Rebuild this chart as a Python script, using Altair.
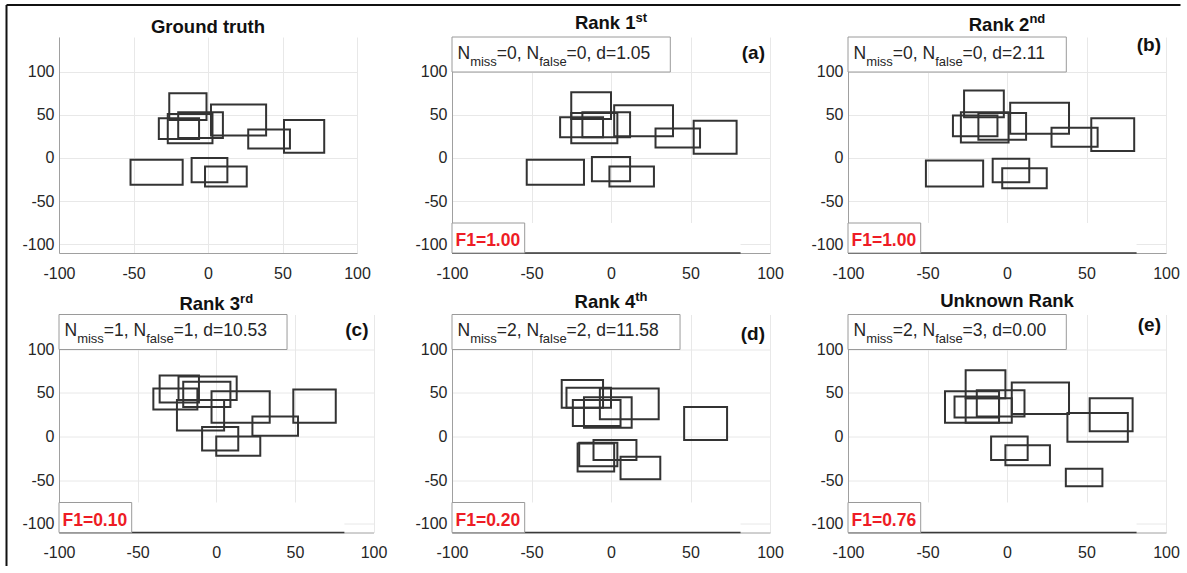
import altair as alt
import pandas as pd

# Box detections per panel, each as (x_min, x_max, y_min, y_max)
ground_truth = [(-26, -1, 44, 75), (2, 39, 26, 62), (-20, 10, 23, 53), (-33, -6, 22, 46),
                (-27, 3, 17, 51), (27, 55, 11, 33), (51, 78, 6, 44), (-52, -17, -31, -2),
                (-11, 13, -28, 0), (-2, 26, -33, -10)]
rank_1 = [(-25, 0, 45, 76), (2, 39, 25, 61), (-18, 12, 24, 53), (-32, -5, 24, 47),
          (-25, 4, 17, 52), (28, 56, 12, 34), (52, 79, 5, 43), (-53, -17, -31, -2),
          (-12, 12, -27, 1), (-1, 27, -33, -10)]
rank_2 = [(-27, -2, 47, 78), (2, 39, 28, 64), (-18, 12, 21, 52), (-34, -6, 25, 49),
          (-29, 1, 18, 53), (28, 57, 13, 35), (53, 80, 8, 46), (-51, -15, -33, -3),
          (-9, 14, -28, -1), (-3, 25, -35, -12)]
rank_3 = [(-36, -11, 39, 70), (-24, 13, 42, 69), (-21, 9, 34, 63), (-40, -12, 31, 55),
          (-25, 5, 7, 42), (-3, 34, 16, 52), (49, 76, 16, 54), (23, 52, 1, 23),
          (-9, 14, -16, 11), (0, 28, -22, 0)]
rank_4 = [(-31, -5, 33, 65), (-28, 0, 33, 56), (-7, 30, 20, 55), (-24, 6, 12, 42),
          (-17, 13, 10, 45), (46, 73, -4, 34), (-11, 16, -27, -4), (-20, 4, -34, -7),
          (-21, 2, -40, -8), (6, 31, -49, -23)]
unknown_rank = [(-26, -1, 44, 76), (3, 39, 26, 62), (-19, 11, 23, 53), (-39, -5, 16, 52),
                (-33, -5, 22, 46), (-26, 3, 16, 44), (38, 76, -6, 27), (52, 79, 6, 44),
                (-10, 13, -27, 0), (-1, 27, -33, -10), (37, 60, -57, -37)]

panel_boxes = [ground_truth, rank_1, rank_2, rank_3, rank_4, unknown_rank]
panel_titles = [("Ground truth", ""), ("Rank 1", "st"), ("Rank 2", "nd"),
                ("Rank 3", "rd"), ("Rank 4", "th"), ("Unknown Rank", "")]
panel_tags = ["", "(a)", "(b)", "(c)", "(d)", "(e)"]
n_miss = [None, 0, 0, 1, 2, 2]
n_false = [None, 0, 0, 1, 2, 3]
distance = [None, 1.05, 2.11, 10.53, 11.58, 0.00]
f1_score = [None, 1.00, 1.00, 0.10, 0.20, 0.76]

tick_values = [-100, -50, 0, 50, 100]
X_DOMAIN = [-100, 100]
Y_DOMAIN = [-110, 140]

# panel sizes (plot area) and per-panel text placement
widths = [298, 318, 318, 314.5, 318, 318]
heights = [216, 216, 216, 218, 218, 218]
title_lift = [4.3, 7.7, 6.5, 4.5, 6.5, 8.0]
tag_baseline = [0, 21.6, 14.0, 21.5, 25.0, 16.5]

FONT = "Liberation Sans"
TEXT_COLOR = "#262626"
RED = "#ee1c25"

# Arial / Liberation Sans advance widths (1/1000 em)
REG_W = {"N": 722, "m": 833, "i": 222, "s": 500, "=": 584, ",": 278, " ": 278,
         "f": 278, "a": 556, "l": 222, "e": 556, "d": 556, ".": 278}
BOLD_W = {"R": 722, "a": 556, "n": 611, "k": 556, " ": 278, "s": 556, "t": 333,
          "r": 389, "d": 611, "h": 611, "U": 722, "o": 611, "w": 778, "G": 778,
          "u": 611, "F": 611, "=": 584, ".": 278, "(": 333, ")": 333, "b": 611,
          "c": 556, "e": 556}
for _d in "0123456789":
    REG_W[_d] = 556
    BOLD_W[_d] = 556


def text_width(s, size, bold=False):
    table = BOLD_W if bold else REG_W
    return sum(table.get(ch, 556) for ch in s) * size / 1000.0


def x_enc(field):
    return alt.X(field, type="quantitative",
                 scale=alt.Scale(domain=X_DOMAIN, nice=False, zero=False),
                 axis=alt.Axis(values=tick_values, grid=True, ticks=False,
                               domainColor="#a0a0a0", domainWidth=1,
                               gridColor="#e8e8e8", gridWidth=1,
                               labelFont=FONT, labelFontSize=16, labelColor=TEXT_COLOR,
                               labelPadding=12, labelFlush=False, labelOverlap=False,
                               labelExpr="'' + datum.value", title=None))


def y_enc(field):
    return alt.Y(field, type="quantitative",
                 scale=alt.Scale(domain=Y_DOMAIN, nice=False, zero=False),
                 axis=alt.Axis(values=tick_values, grid=True, ticks=False,
                               domainColor="#a0a0a0", domainWidth=1,
                               gridColor="#e8e8e8", gridWidth=1,
                               labelFont=FONT, labelFontSize=16, labelColor=TEXT_COLOR,
                               labelPadding=5, labelOverlap=False,
                               labelExpr="'' + datum.value", title=None))


def build_panel(i):
    w, h = widths[i], heights[i]
    sx = w / (X_DOMAIN[1] - X_DOMAIN[0])
    sy = h / (Y_DOMAIN[1] - Y_DOMAIN[0])

    def xd(px):
        return X_DOMAIN[0] + px / sx

    def yd(py):
        return Y_DOMAIN[1] - py / sy

    one = pd.DataFrame({"k": [0]})
    boxes = pd.DataFrame(panel_boxes[i], columns=["x0", "x1", "y0", "y1"])
    layers = [
        alt.Chart(boxes).mark_rect(fillOpacity=0, stroke="#333333", strokeWidth=2)
        .encode(x=x_enc("x0"), x2="x1", y=y_enc("y0"), y2="y1")
    ]

    regular, bold = [], []

    # panel title with optional superscript, centred over the plot
    main, sup = panel_titles[i]
    t_fs, s_fs = 18.5, 13
    total = text_width(main, t_fs, True) + (text_width(sup, s_fs, True) if sup else 0)
    left = w / 2 - total / 2
    base = -title_lift[i]
    bold.append({"t": main, "x": xd(left), "y": yd(base), "fs": t_fs, "c": "#111111"})
    if sup:
        bold.append({"t": sup, "x": xd(left + text_width(main, t_fs, True)),
                     "y": yd(base - 7.5), "fs": s_fs, "c": "#111111"})

    if i > 0:
        # statistics box along the top edge
        fs, sub = 17.5, 13
        parts = [("N", fs, 0), ("miss", sub, 7), (f"={n_miss[i]}, N", fs, 0),
                 ("false", sub, 7), (f"={n_false[i]}, d={distance[i]:.2f}", fs, 0)]
        cursor = 5.5
        for txt, size, drop in parts:
            regular.append({"t": txt, "x": xd(cursor), "y": yd(21.5 + drop),
                            "fs": size, "c": TEXT_COLOR})
            cursor += text_width(txt, size)
        stat_box = pd.DataFrame({"x0": [X_DOMAIN[0]], "x1": [xd(cursor + 20)],
                                 "y0": [yd(35)], "y1": [Y_DOMAIN[1]]})

        # F1 score box in the lower-left corner, over a blank strip
        f1_txt = f"F1={f1_score[i]:.2f}"
        f1_fs = 17.5
        f1_w = text_width(f1_txt, f1_fs, True)
        f1_box = pd.DataFrame({"x0": [X_DOMAIN[0]], "x1": [xd(f1_w + 8)],
                               "y0": [Y_DOMAIN[0]], "y1": [yd(h - 30)]})
        strip = pd.DataFrame({"x0": [X_DOMAIN[0]], "x1": [81.5],
                              "y0": [Y_DOMAIN[0]], "y1": [yd(h - 30)]})
        bold.append({"t": f1_txt, "x": xd(3.5), "y": yd(h - 7), "fs": f1_fs, "c": RED})

        # panel tag, right aligned near the top-right corner
        tag = panel_tags[i]
        tag_fs = 19
        bold.append({"t": tag, "x": xd(w - 5 - text_width(tag, tag_fs, True)),
                     "y": yd(tag_baseline[i]), "fs": tag_fs, "c": "#111111"})

        layers += [
            alt.Chart(strip).mark_rect(fill="white", strokeWidth=0)
            .encode(x=x_enc("x0"), x2="x1", y=y_enc("y0"), y2="y1"),
            alt.Chart(pd.DataFrame({"x0": [X_DOMAIN[0]], "x1": [81.5], "y0": [Y_DOMAIN[0]]}))
            .mark_rule(color="#3a3a3a", strokeWidth=1.6)
            .encode(x=x_enc("x0"), x2="x1", y=y_enc("y0")),
            alt.Chart(pd.concat([stat_box, f1_box]))
            .mark_rect(fill="white", stroke="#9a9a9a", strokeWidth=1)
            .encode(x=x_enc("x0"), x2="x1", y=y_enc("y0"), y2="y1"),
        ]

    if regular:
        layers.append(
            alt.Chart(pd.DataFrame(regular))
            .mark_text(align="left", baseline="alphabetic", font=FONT)
            .encode(x=x_enc("x"), y=y_enc("y"), text="t:N",
                    size=alt.Size("fs:Q", scale=None),
                    color=alt.Color("c:N", scale=None)))
    layers.append(
        alt.Chart(pd.DataFrame(bold))
        .mark_text(align="left", baseline="alphabetic", font=FONT, fontWeight="bold")
        .encode(x=x_enc("x"), y=y_enc("y"), text="t:N",
                size=alt.Size("fs:Q", scale=None),
                color=alt.Color("c:N", scale=None)))

    if i == 0:
        # figure border along the top and the left side
        layers += [
            alt.Chart(one).mark_rule(color="#111111", strokeWidth=2)
            .encode(x=alt.value(-52.5), x2=alt.value(1121.5), y=alt.value(-32)),
            alt.Chart(one).mark_rule(color="#111111", strokeWidth=2)
            .encode(x=alt.value(-52.5), y=alt.value(-32), y2=alt.value(529)),
        ]

    return alt.layer(*layers).properties(width=w, height=h)


panels = [build_panel(i) for i in range(6)]

chart = (
    alt.concat(*panels, columns=3, spacing={"row": 61.5, "column": 78},
               bounds="flush", align="each")
    .properties(padding={"left": 5, "top": 4, "right": 0, "bottom": 0},
                background="white")
    .configure_view(strokeWidth=0)
)

chart.save("out.html", embed_options={"renderer": "svg", "actions": False})
